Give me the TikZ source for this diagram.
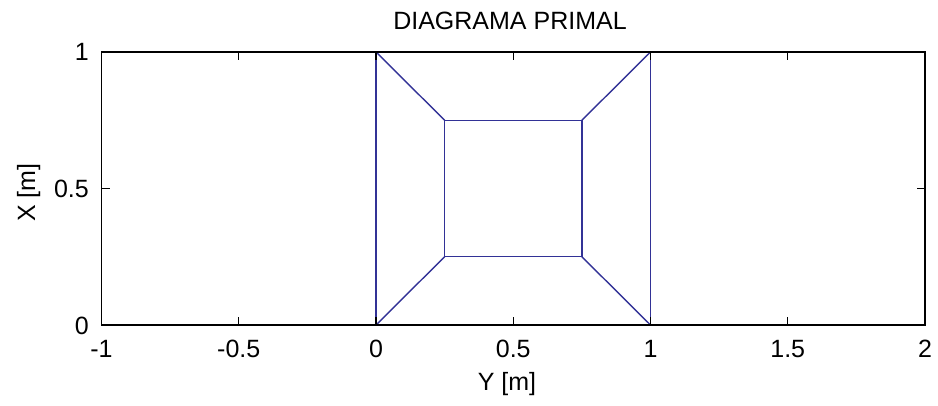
\documentclass[tikz,border=0pt]{standalone}
\usepackage{fontspec}
\setmainfont{Liberation Sans}
\definecolor{plotblue}{RGB}{50,50,150}
\begin{document}
\begin{tikzpicture}[x=1pt,y=1pt,
  lbl/.style={font=\fontsize{25}{30}\selectfont, inner sep=0pt},
  axisline/.style={line width=1.3pt, black},
  plotline/.style={line width=1.4pt, plotblue}]
\useasboundingbox (0,0) rectangle (938,405);
\begin{scope}[shift={(376,80)}, x=274.5pt, y=273pt]
  % mesh vertices
  \coordinate (a) at (0,0);
  \coordinate (b) at (1,0);
  \coordinate (c) at (1,1);
  \coordinate (d) at (0,1);
  \coordinate (e) at (0.25,0.25);
  \coordinate (f) at (0.75,0.25);
  \coordinate (g) at (0.75,0.75);
  \coordinate (h) at (0.25,0.75);
  % mesh lines
  \draw[plotline] (a) -- (d);
  \draw[plotline] (b) -- (c);
  \draw[plotline] (a) -- (e);
  \draw[plotline] (b) -- (f);
  \draw[plotline] (c) -- (g);
  \draw[plotline] (d) -- (h);
  \draw[plotline] (e) -- (f) -- (g) -- (h) -- cycle;
  % axes box
  \coordinate (bl) at (-1,0);
  \coordinate (tr) at (2,1);
  \draw[axisline] (bl) rectangle (tr);
  % x ticks
  \foreach \v in {-1,-0.5,0,0.5,1,1.5,2} {
    \draw[axisline] (\v,0) -- ++(0,8pt);
    \draw[axisline] (\v,1) -- ++(0,-8pt);
    \node[lbl, anchor=base, yshift=-32pt] at (\v,0) {\v};
  }
  % y ticks
  \foreach \v in {0,0.5,1} {
    \draw[axisline] (-1,\v) -- ++(8pt,0);
    \draw[axisline] (2,\v) -- ++(-8pt,0);
    \node[lbl, anchor=base east, xshift=-12.5pt, yshift=-9pt] at (-1,\v) {\v};
  }
\end{scope}
\node[lbl, anchor=base] (title) at (510,375) {DIAGRAMA PRIMAL};
\node[lbl, anchor=base] (xlab) at (507,15) {Y [m]};
\node[lbl, anchor=base, rotate=90] (ylab) at (35,212.5) {X [m]};
\end{tikzpicture}
\end{document}
